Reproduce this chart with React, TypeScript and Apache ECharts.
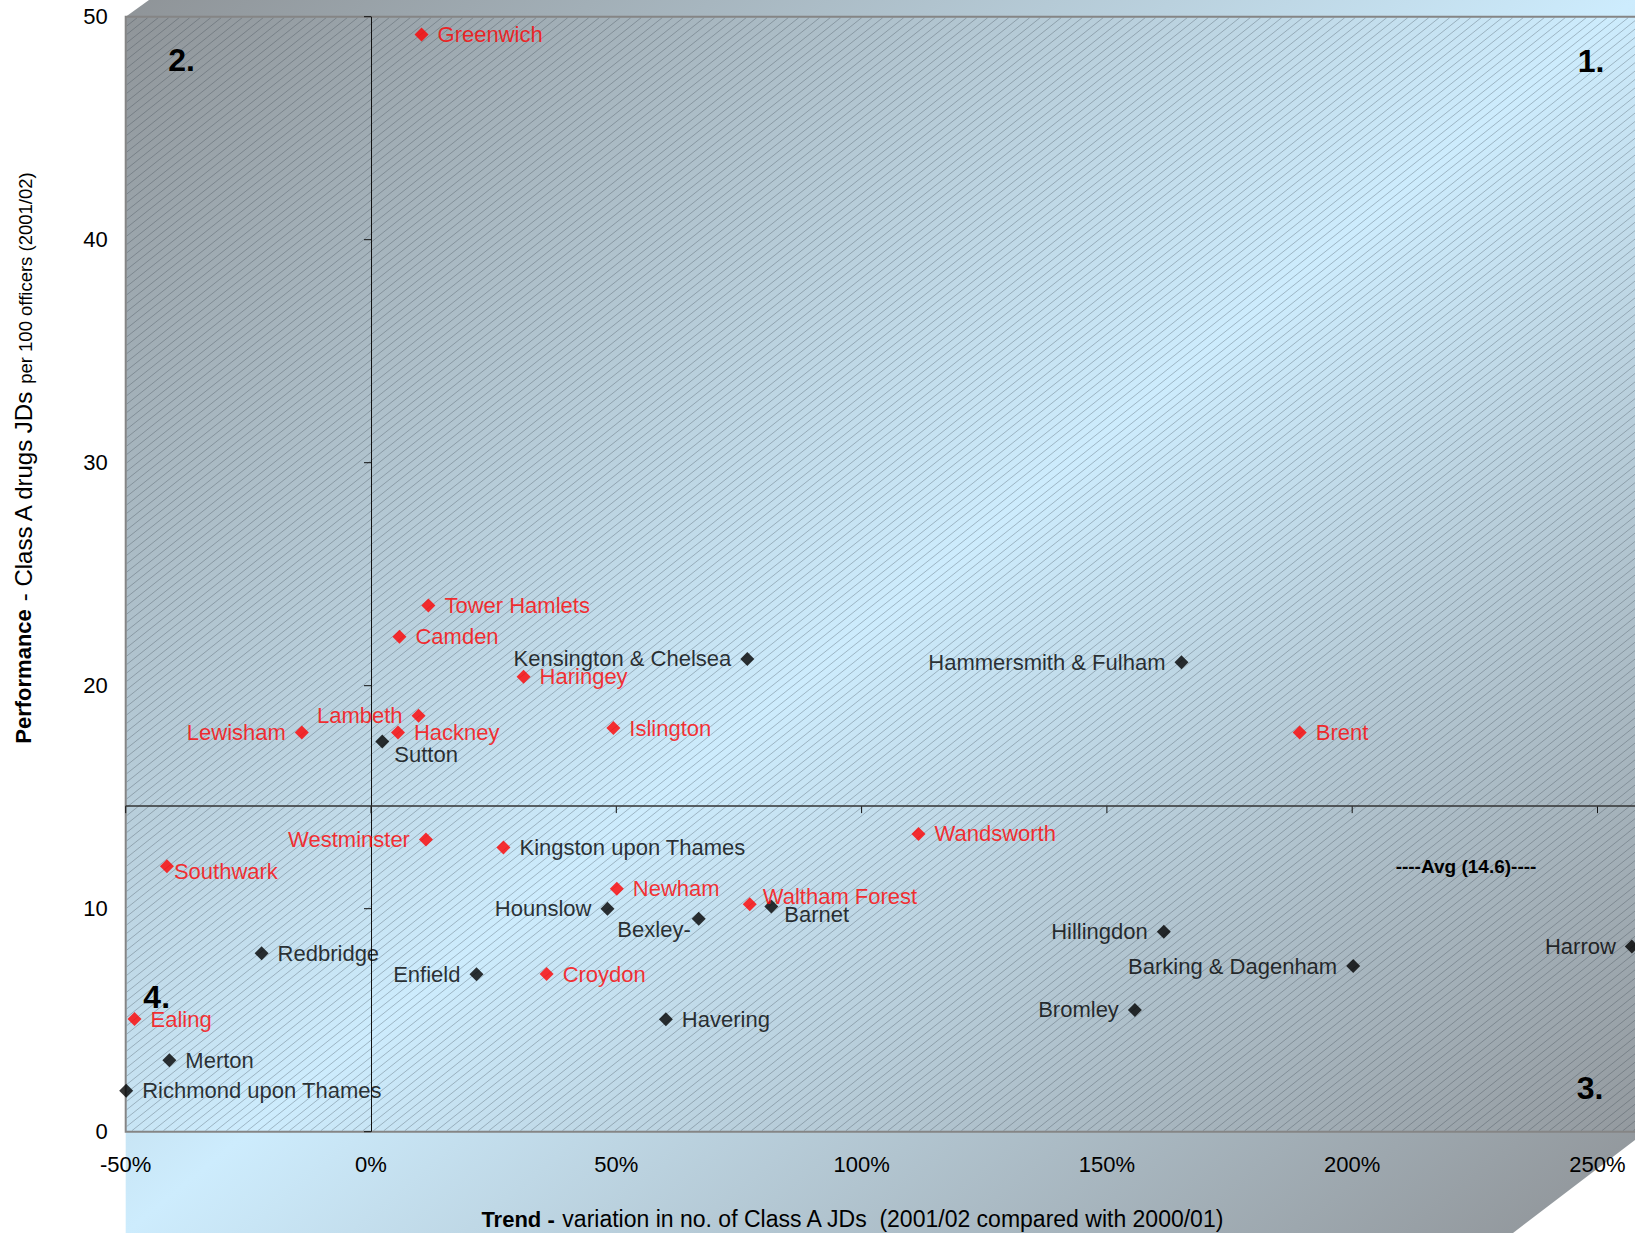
import React, { useEffect, useRef } from "react";
import * as echarts from "echarts";

// ---------------- DATA ----------------
const boroughs = [
  "Greenwich", "Tower Hamlets", "Camden", "Kensington & Chelsea", "Haringey",
  "Hammersmith & Fulham", "Lambeth", "Hackney", "Lewisham", "Sutton",
  "Islington", "Brent", "Westminster", "Kingston upon Thames", "Wandsworth",
  "Southwark", "Newham", "Hounslow", "Waltham Forest", "Barnet",
  "Bexley-", "Hillingdon", "Harrow", "Redbridge", "Barking & Dagenham",
  "Enfield", "Croydon", "Bromley", "Ealing", "Havering",
  "Merton", "Richmond upon Thames",
];
// Trend: % variation in no. of Class A JDs (2001/02 vs 2000/01)
const trendPct = [
  10.3, 11.7, 5.8, 76.7, 31.1,
  165.2, 9.7, 5.5, -14.1, 2.3,
  49.4, 189.3, 11.2, 27.0, 111.6,
  -41.6, 50.1, 48.2, 77.2, 81.6,
  66.8, 161.6, 257.0, -22.3, 200.2,
  21.5, 35.8, 155.7, -48.2, 60.1,
  -41.1, -49.9,
];
// Performance: Class A drugs JDs per 100 officers (2001/02)
const performance = [
  49.2, 23.6, 22.2, 21.2, 20.4,
  21.05, 18.65, 17.9, 17.9, 17.5,
  18.1, 17.9, 13.1, 12.75, 13.35,
  11.9, 10.9, 10.0, 10.2, 10.1,
  9.55, 8.97, 8.3, 8.0, 7.43,
  7.06, 7.07, 5.46, 5.05, 5.04,
  3.2, 1.84,
];
// 1 = highlighted (red) borough, 0 = other
const highlighted = [
  1, 1, 1, 0, 1,
  0, 1, 1, 1, 0,
  1, 1, 1, 1, 1,
  1, 1, 0, 1, 0,
  0, 0, 0, 0, 0,
  0, 1, 0, 1, 0,
  0, 0,
];
const averagePerformance = 14.6;
const xTickValues = [-50, 0, 50, 100, 150, 200, 250, 300];
const yTickValues = [0, 10, 20, 30, 40, 50];
const quadrantNames = ["1.", "2.", "3.", "4."];

// ---------------- STYLE / LAYOUT ----------------
const FONT = "'Liberation Sans', Arial, Helvetica, sans-serif";
const RED = "#ff0000";
const BLACK = "#000000";
const GRID = { left: 125.7, top: 16.7, width: 1717.1, height: 1115 };
const CANVAS_W = 1635;
const CANVAS_H = 1233;

const leftLabels = new Set([
  "Lewisham", "Lambeth", "Westminster", "Kensington & Chelsea",
  "Hammersmith & Fulham", "Hounslow", "Enfield", "Hillingdon",
  "Barking & Dagenham", "Bromley", "Harrow", "Bexley-",
]);
const labelOffsets: Record<string, number[]> = {
  Sutton: [-4, 13],
  Southwark: [-9, 5],
  "Waltham Forest": [-3, -8],
  Barnet: [-3, 8],
  "Bexley-": [8, 11],
};
const labelColorOverride: Record<string, string> = {
  "Kingston upon Thames": BLACK,
};

function hatchPath(x0: number, y0: number, x1: number, y1: number, m: number, s: number) {
  let d = "";
  const bStart = m * x0 + y0;
  const bEnd = m * x1 + y1;
  for (let b = bStart; b <= bEnd; b += m * s) {
    const xa = Math.max(x0, (b - y1) / m);
    const xb = Math.min(x1, (b - y0) / m);
    if (xb - xa > 0.5) {
      d += `M${xa.toFixed(2)} ${(b - m * xa).toFixed(2)}L${xb.toFixed(2)} ${(b - m * xb).toFixed(2)}`;
    }
  }
  return d;
}

let registered = false;
function ensureShapes() {
  if (registered) return;
  registered = true;
  const d = hatchPath(GRID.left + 1, GRID.top + 1, CANVAS_W, GRID.top + GRID.height - 1, 0.8, 10.5);
  echarts.graphic.registerShape("hatch", echarts.graphic.extendPath(d, {}));
}

export default function App() {
  const ref = useRef<HTMLDivElement>(null);

  useEffect(() => {
    if (!ref.current) return;
    ensureShapes();
    const chart = echarts.init(ref.current, null, { renderer: "svg" });

    const points = boroughs.map((name, i) => {
      const isRed = highlighted[i] === 1;
      const color = isRed ? RED : BLACK;
      return {
        name,
        value: [trendPct[i], performance[i]],
        itemStyle: { color },
        label: {
          position: leftLabels.has(name) ? "left" : "right",
          offset: labelOffsets[name] || [0, 0],
          color: labelColorOverride[name] || color,
        },
      };
    });

    const tickData = [
      ...xTickValues.map((v) => [v, averagePerformance, 0]),
      ...yTickValues.map((v) => [0, v, 1]),
    ];

    const grad = {
      type: "linear",
      x: 279, y: -119.5, x2: 1481, y2: 1352.5,
      global: true,
      colorStops: [
        { offset: 0, color: "#8f9498" },
        { offset: 0.5, color: "#cdecfd" },
        { offset: 1, color: "#8f9397" },
      ],
    };

    const option: any = {
      animation: false,
      backgroundColor: "#ffffff",
      grid: {
        ...GRID,
        outerBoundsMode: "none",
        containLabel: false,
        show: true,
        borderColor: "#858585",
        borderWidth: 2,
        backgroundColor: "transparent",
        z: 1,
      },
      xAxis: {
        type: "value",
        min: -50,
        max: 300,
        interval: 50,
        z: 3,
        axisLine: { show: false },
        axisTick: { show: false },
        splitLine: { show: false },
        axisLabel: {
          formatter: "{value}%",
          fontSize: 22,
          fontFamily: FONT,
          color: BLACK,
          margin: 22,
          showMaxLabel: false,
        },
      },
      yAxis: {
        type: "value",
        min: 0,
        max: 50,
        interval: 10,
        z: 3,
        axisLine: { show: false },
        axisTick: { show: false },
        splitLine: { show: false },
        axisLabel: {
          fontSize: 22,
          fontFamily: FONT,
          color: BLACK,
          margin: 18,
        },
      },
      graphic: {
        elements: [
          {
            type: "polygon",
            silent: true,
            z: 0,
            z2: 0,
            shape: {
              points: [
                [GRID.left, GRID.top], [149, 0], [CANVAS_W, 0],
                [CANVAS_W, 1140], [1513, CANVAS_H], [GRID.left, CANVAS_H],
              ],
            },
            style: { fill: grad },
          },
          {
            type: "hatch",
            silent: true,
            z: 0,
            z2: 1,
            x: 0,
            y: 0,
            style: { fill: "none", stroke: "rgba(50,60,70,0.3)", lineWidth: 1 },
          },
          {
            type: "text",
            silent: true,
            z: 10,
            x: 23,
            y: 458,
            rotation: Math.PI / 2,
            style: {
              text: "{b|Performance}{n| - Class A drugs JDs }{s|per 100 officers (2001/02)}",
              align: "center",
              verticalAlign: "middle",
              fill: BLACK,
              fontFamily: FONT,
              rich: {
                b: { fontSize: 22, fontWeight: "bold", fontFamily: FONT, fill: BLACK },
                n: { fontSize: 24, fontFamily: FONT, fill: BLACK },
                s: { fontSize: 18.5, fontFamily: FONT, fill: BLACK, verticalAlign: "bottom" },
              },
            },
          },
          {
            type: "text",
            silent: true,
            z: 10,
            x: 853,
            y: 1219,
            style: {
              text: "{b|Trend -}{n| variation in no. of Class A JDs  (2001/02 compared with 2000/01)}",
              align: "center",
              verticalAlign: "middle",
              fill: BLACK,
              fontFamily: FONT,
              rich: {
                b: { fontSize: 22, fontWeight: "bold", fontFamily: FONT, fill: BLACK },
                n: { fontSize: 23, fontFamily: FONT, fill: BLACK },
              },
            },
          },
          ...[
            [1591, 61],
            [181.5, 60],
            [1590, 1088],
            [156.7, 997],
          ].map(([x, y], i) => ({
            type: "text",
            silent: true,
            z: 10,
            x,
            y,
            style: {
              text: quadrantNames[i],
              align: "center",
              verticalAlign: "middle",
              fill: BLACK,
              font: `bold 32px ${FONT}`,
            },
          })),
          {
            type: "text",
            silent: true,
            z: 10,
            x: 1466,
            y: 866,
            style: {
              text: `----Avg (${averagePerformance})----`,
              align: "center",
              verticalAlign: "middle",
              fill: BLACK,
              font: `bold 19px ${FONT}`,
            },
          },
        ],
      },
      series: [
        {
          type: "scatter",
          z: 5,
          symbol: "diamond",
          symbolSize: 14,
          data: points,
          label: {
            show: true,
            formatter: "{b}",
            distance: 9,
            fontSize: 22,
            fontFamily: FONT,
          },
          emphasis: { disabled: true },
          markLine: {
            silent: true,
            symbol: "none",
            label: { show: false },
            animation: false,
            data: [
              { xAxis: 0, lineStyle: { color: "#111111", width: 1, type: "solid" } },
              { yAxis: averagePerformance, lineStyle: { color: "#333333", width: 1.5, type: "solid" } },
            ],
          },
        },
        {
          type: "custom",
          z: 4,
          silent: true,
          data: tickData,
          renderItem: (params: any, api: any) => {
            const p = api.coord([api.value(0), api.value(1)]);
            const vertical = api.value(2) === 0;
            return {
              type: "line",
              shape: vertical
                ? { x1: p[0], y1: p[1], x2: p[0], y2: p[1] + 7 }
                : { x1: p[0] - 7, y1: p[1], x2: p[0], y2: p[1] },
              style: { stroke: "#111111", lineWidth: 1 },
            };
          },
        },
      ],
    };

    chart.setOption(option);
    return () => chart.dispose();
  }, []);

  return (
    <div
      ref={ref}
      style={{ position: "fixed", left: 0, top: 0, width: CANVAS_W, height: CANVAS_H }}
    />
  );
}
